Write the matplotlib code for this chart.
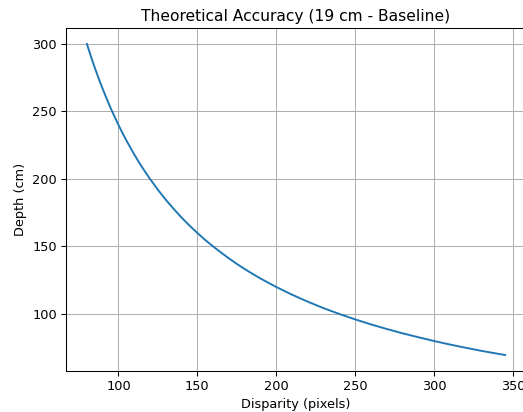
import matplotlib
matplotlib.use("Agg")
import matplotlib.pyplot as plt

# Values
disparity = [80, 82.5, 85, 87.5, 90, 92.5, 95, 97.5, 100, 102.5, 105, 107.5,
             110, 112.5, 115, 117.5, 120, 125, 130, 135, 140, 145, 150, 155,
             160, 165, 170, 175, 180, 185, 190, 195, 200, 210, 220, 230, 240,
             250, 260, 270, 280, 290, 300, 310, 320, 330, 345]
depth = [300.0, 290.9, 282.4, 274.3, 266.7, 259.5, 252.6, 246.2, 240.0, 234.1,
         228.6, 223.3, 218.2, 213.3, 208.7, 204.3, 200.0, 192.0, 184.6, 177.8,
         171.4, 165.5, 160.0, 154.8, 150.0, 145.5, 141.2, 137.1, 133.3, 129.7,
         126.3, 123.1, 120.0, 114.3, 109.1, 104.3, 100.0, 96.0, 92.3, 88.9,
         85.7, 82.8, 80.0, 77.4, 75.0, 72.7, 69.6]

title = "Theoretical Accuracy (19 cm - Baseline)"
xlabel = "Disparity (pixels)"
ylabel = "Depth (cm)"

DPI = 92.7
fig = plt.figure(figsize=(523 / DPI, 412 / DPI), dpi=DPI)
ax = fig.add_axes([66 / 523, (412 - 370.6) / 412, 460 / 523, 342.2 / 412])
ax.plot(disparity, depth, color="#1f77b4", linewidth=1.5)
ax.set_xlim(66.75, 358.25)
ax.set_title(title)
ax.set_xlabel(xlabel)
ax.set_ylabel(ylabel)
ax.grid(True)
ax.set_xticks([100, 150, 200, 250, 300, 350])
ax.set_yticks([100, 150, 200, 250, 300])
fig.savefig("out.png", dpi=DPI)
